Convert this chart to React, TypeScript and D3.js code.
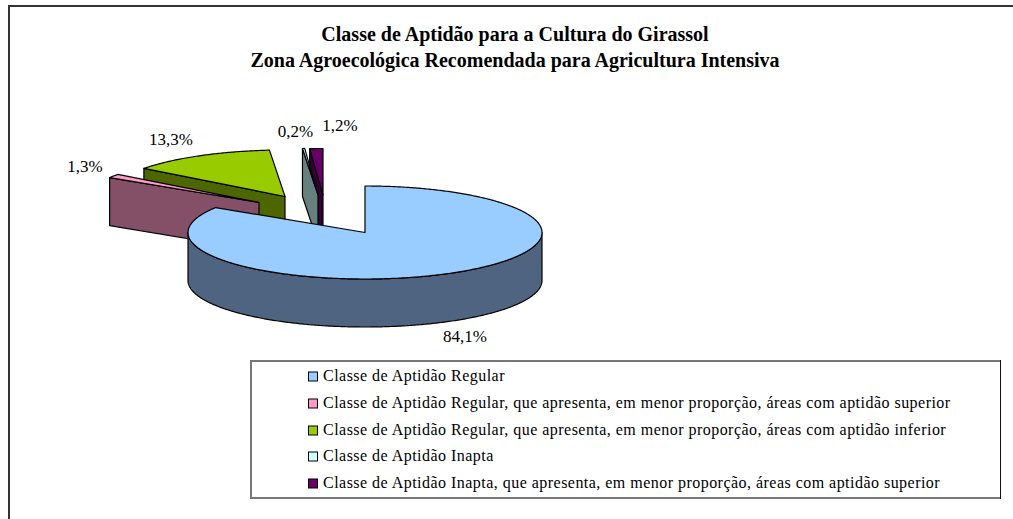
import React from "react";
import * as d3 from "d3";

const categories = [
  "Classe de Aptidão Regular",
  "Classe de Aptidão Regular, que apresenta, em menor proporção, áreas com aptidão superior",
  "Classe de Aptidão Regular, que apresenta, em menor proporção, áreas com aptidão inferior",
  "Classe de Aptidão Inapta",
  "Classe de Aptidão Inapta, que apresenta, em menor proporção, áreas com aptidão superior",
];
const values = [84.1, 1.3, 13.3, 0.2, 1.2];
const valueLabels = ["84,1%", "1,3%", "13,3%", "0,2%", "1,2%"];
const topColors = ["#99CCFF", "#FF99CC", "#99CC00", "#CCFFFF", "#660066"];
const wallColors = ["#4F6480", "#845068", "#4E6600", "#668080", "#330033"];
const titleLines = [
  "Classe de Aptidão para a Cultura do Girassol",
  "Zona Agroecológica Recomendada para Agricultura Intensiva",
];

// layout
const cx = 365, cy = 232.5, rx = 177, ry = 46.5, depth = 48;
const explode: [number, number][] = [[0, 0], [-106, -30], [-80, -36], [-47, -37.7], [-42, -37.5]];
const labelPos: [number, number][] = [[465, 342], [85, 172], [171, 145], [295.5, 137], [340, 131]];
const drawOrder = [4, 3, 2, 1, 0];
const legendRows = [376, 403, 430, 456, 483];

const pieGen = d3.pie<number>().sort(null).value((d) => d);
const lineGen = d3.line<[number, number]>().x((d) => d[0]).y((d) => d[1]);

function rim(theta: number, off: [number, number], dy = 0): [number, number] {
  return [cx + off[0] + rx * Math.sin(theta), cy + off[1] + dy - ry * Math.cos(theta)];
}
function sample(a: number, b: number): number[] {
  const n = Math.max(2, Math.ceil((b - a) / 0.01));
  return d3.range(n + 1).map((i) => a + ((b - a) * i) / n);
}

export default function App() {
  const arcs = pieGen(values);
  const slices = drawOrder.map((i) => {
    const { startAngle: a, endAngle: b } = arcs[i];
    const off = explode[i];
    const apex: [number, number] = [cx + off[0], cy + off[1]];
    const top = [apex, ...sample(a, b).map((t) => rim(t, off))];
    const topD = lineGen(top) + "Z";
    const walls: string[] = [];
    const fa = Math.max(a, Math.PI / 2), fb = Math.min(b, (3 * Math.PI) / 2);
    if (fb > fa) {
      const s = sample(fa, fb);
      walls.push(lineGen([...s.map((t) => rim(t, off)), ...s.slice().reverse().map((t) => rim(t, off, depth))]) + "Z");
    }
    if (i !== 0) {
      const r = rim(a, off);
      walls.push(lineGen([r, apex, [apex[0], apex[1] + depth], [r[0], r[1] + depth]]) + "Z");
    }
    return { i, topD, walls };
  });

  return (
    <svg width={1013} height={519} style={{ position: "absolute", left: 0, top: 0, fontFamily: "'Liberation Serif', serif" }}>
      <rect x={0} y={0} width={1013} height={519} fill="#fff" />
      <path d="M9 519V6H1013" fill="none" stroke="#333" strokeWidth={2} />
      {titleLines.map((t, i) => (
        <text key={i} x={515} y={41 + i * 25.5} textAnchor="middle" fontSize={20} fontWeight="bold" fill="#000">{t}</text>
      ))}
      {slices.map((s) => (
        <g key={s.i} stroke="#000" strokeWidth={1.2} strokeLinejoin="round">
          {s.walls.map((w, k) => <path key={k} d={w} fill={wallColors[s.i]} />)}
          <path d={s.topD} fill={topColors[s.i]} />
        </g>
      ))}
      {valueLabels.map((t, i) => (
        <text key={i} x={labelPos[i][0]} y={labelPos[i][1]} textAnchor="middle" fontSize={17} fill="#000">{t}</text>
      ))}
      <rect x={251} y={361} width={750} height={137} fill="#fff" stroke="none" />
      <path d="M1001 498H251V361H1001" fill="none" stroke="#777" strokeWidth={2} />
      <path d="M1000.5 360V499" fill="none" stroke="#111" strokeWidth={1} />
      {categories.map((c, i) => (
        <g key={i}>
          <rect x={308.5} y={legendRows[i] - 4} width={9} height={9} fill={topColors[i]} stroke="#000" />
          <text x={323} y={legendRows[i] + 5} fontSize={16} letterSpacing={0.47} fill="#000">{c}</text>
        </g>
      ))}
    </svg>
  );
}
